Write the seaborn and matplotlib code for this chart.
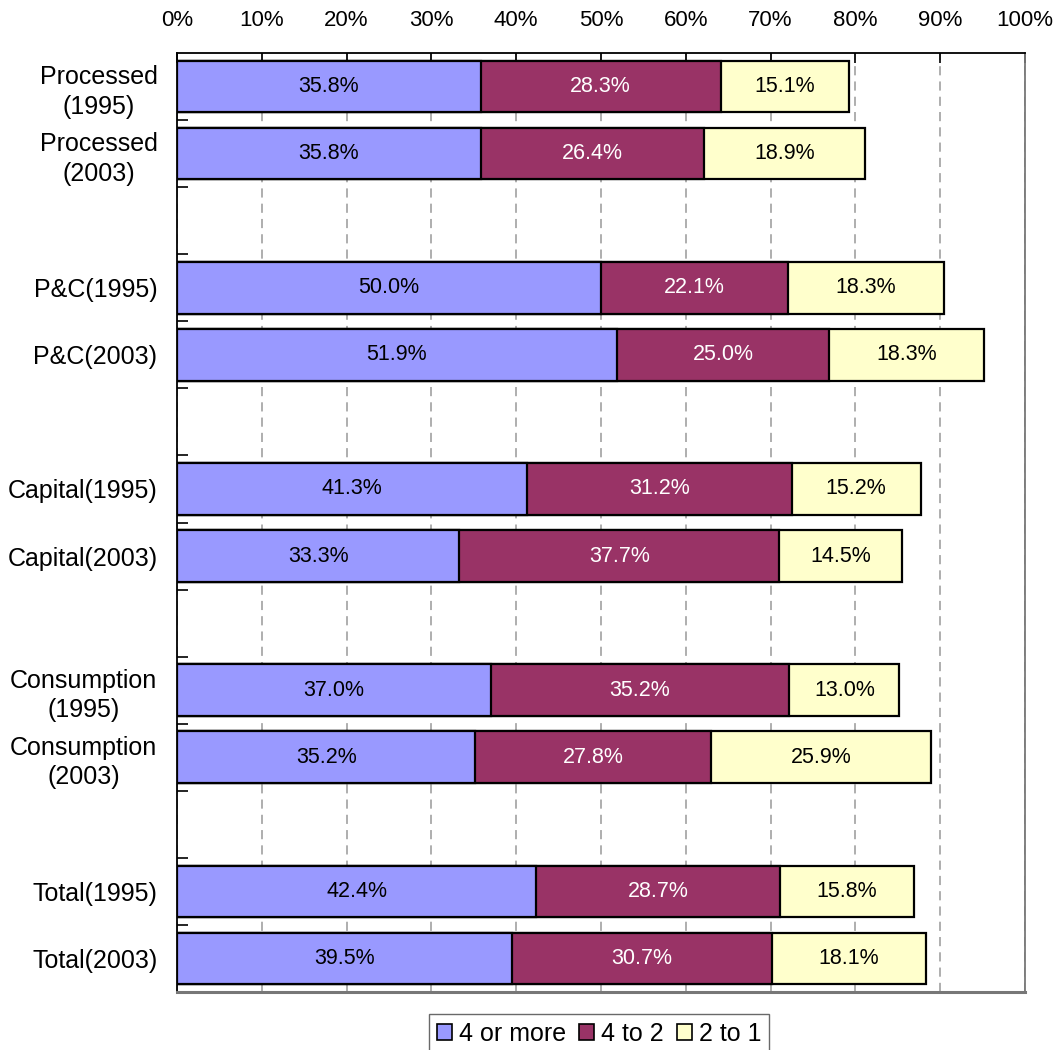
import matplotlib
matplotlib.use("Agg")
import matplotlib.pyplot as plt
from matplotlib.patches import Patch
from matplotlib.ticker import FixedLocator, PercentFormatter
import numpy as np
import pandas as pd
import seaborn as sns

sns.set_theme(style="white")
plt.rcParams["font.family"] = ["Liberation Sans", "DejaVu Sans"]
plt.rcParams["text.color"] = "black"
plt.rcParams["xtick.color"] = "black"
plt.rcParams["ytick.color"] = "black"
plt.rcParams["axes.labelcolor"] = "black"

# Row labels, with blank spacer rows between sector groups
rows = [
    "Processed\n(1995)", "Processed\n(2003)", " ",
    "P&C(1995)", "P&C(2003)", "  ",
    "Capital(1995)", "Capital(2003)", "   ",
    "Consumption\n(1995)", "Consumption\n(2003)", "    ",
    "Total(1995)", "Total(2003)",
]
labels = [
    "Processed\n(1995)", "Processed\n(2003)",
    "P&C(1995)", "P&C(2003)",
    "Capital(1995)", "Capital(2003)",
    "Consumption\n(1995)", "Consumption\n(2003)",
    "Total(1995)", "Total(2003)",
]
series_names = ["4 or more", "4 to 2", "2 to 1"]
four_or_more = [35.8, 35.8, 50.0, 51.9, 41.3, 33.3, 37.0, 35.2, 42.4, 39.5]
four_to_two = [28.3, 26.4, 22.1, 25.0, 31.2, 37.7, 35.2, 27.8, 28.7, 30.7]
two_to_one = [15.1, 18.9, 18.3, 18.3, 15.2, 14.5, 13.0, 25.9, 15.8, 18.1]

colors = ["#9999FF", "#993366", "#FFFFCC"]
text_colors = ["black", "white", "black"]

df = pd.DataFrame({
    "label": labels,
    "s1": four_or_more,
    "s2": four_to_two,
    "s3": two_to_one,
})
df["c1"] = df["s1"]
df["c2"] = df["s1"] + df["s2"]
df["c3"] = df["c2"] + df["s3"]

fig = plt.figure(figsize=(10.53, 10.50), dpi=100)
ax = fig.add_axes([0.168, 0.0552, 0.8054, 0.8943])

# Stacked bars: draw cumulative totals from the outermost segment inward
for cum_col, color in zip(["c3", "c2", "c1"], colors[::-1]):
    sns.barplot(data=df, x=cum_col, y="label", order=rows, orient="h",
                color=color, edgecolor="black", linewidth=1.6,
                width=0.77, saturation=1, ax=ax, zorder=3)

# Segment value labels
ypos = {r: i for i, r in enumerate(rows)}
for _, r in df.iterrows():
    y = ypos[r["label"]]
    starts = [0, r["c1"], r["c2"]]
    vals = [r["s1"], r["s2"], r["s3"]]
    for st, v, tc in zip(starts, vals, text_colors):
        ax.text(st + v / 2, y, f"{v:.1f}%", ha="center", va="center",
                color=tc, fontsize=15.5, zorder=5)

ax.set_xlim(0, 100)
ax.set_ylim(len(rows) - 0.5, -0.5)
ax.set_xlabel("")
ax.set_ylabel("")

# Percent axis on top, with inward ticks
ax.xaxis.set_major_locator(FixedLocator(np.arange(0, 101, 10)))
ax.xaxis.set_major_formatter(PercentFormatter(decimals=0))
ax.xaxis.tick_top()
ax.tick_params(axis="x", which="major", top=True, bottom=False,
               direction="in", length=7, width=1.2, color="black",
               labelcolor="black", labelsize=16, pad=16)
ax.grid(axis="x", color="#999999", linestyle=(0, (6, 4)), linewidth=1.1, zorder=0)
ax.set_axisbelow(True)

# Category labels at row centres, boundary ticks between rows
ax.tick_params(axis="y", which="major", left=False, length=0,
               labelcolor="black", labelsize=18, pad=14)
ax.yaxis.set_minor_locator(FixedLocator(np.arange(0.5, len(rows) - 0.5, 1)))
ax.tick_params(axis="y", which="minor", left=True, direction="in",
               length=8, width=1.2, color="black")
for t in ax.get_yticklabels():
    t.set_multialignment("center")
    t.set_linespacing(1.3)

for side in ["top", "left"]:
    ax.spines[side].set_color("black")
    ax.spines[side].set_linewidth(1.3)
ax.spines["right"].set_color("#777777")
ax.spines["right"].set_linewidth(1.3)
ax.spines["bottom"].set_color("#777777")
ax.spines["bottom"].set_linewidth(2.2)

handles = [Patch(facecolor=c, edgecolor="black", linewidth=1.2) for c in colors]
leg = fig.legend(handles, series_names, loc="upper center",
                 bbox_to_anchor=(0.569, 0.034), ncol=3, frameon=True,
                 fancybox=False, fontsize=18, handlelength=0.6,
                 handleheight=0.6, handletextpad=0.3, columnspacing=0.5,
                 borderpad=0.3, borderaxespad=0)
leg.get_frame().set_edgecolor("#444444")
leg.get_frame().set_linewidth(1.0)

fig.savefig("out.png", dpi=100)
